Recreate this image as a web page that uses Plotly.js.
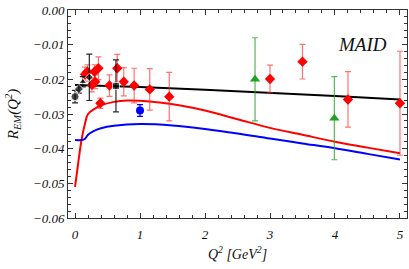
<!DOCTYPE html>
<html><head><meta charset="utf-8">
<script src="https://cdn.plot.ly/plotly-3.0.1.min.js"></script>
<style>html,body{margin:0;padding:0;background:#fff}#g{width:409px;height:269px}</style>
</head><body><div id="g"></div>
<script>
// Theory curves
const blackX = [0, 0.5, 1, 2, 3, 4, 5];
const blackY = [-0.0216, -0.0218, -0.0222, -0.0230, -0.0238, -0.0248, -0.0258];
const redX = [0, 0.05, 0.1, 0.15, 0.2, 0.3, 0.4, 0.6, 0.8, 1.0, 1.3, 1.6, 2.0, 2.5, 3.0, 3.5, 4.0, 4.5, 5.0];
const redY = [-0.051, -0.044, -0.0375, -0.033, -0.030, -0.0285, -0.0275, -0.0265, -0.0261, -0.0262, -0.0267, -0.0275, -0.029, -0.0315, -0.034, -0.036, -0.038, -0.0397, -0.0413];
const blueX = [0, 0.1, 0.15, 0.2, 0.3, 0.4, 0.6, 1.0, 1.5, 2.0, 2.5, 3.0, 3.5, 4.0, 4.5, 5.0];
const blueY = [-0.0375, -0.0375, -0.0372, -0.036, -0.0348, -0.0341, -0.0334, -0.0329, -0.0333, -0.0343, -0.0356, -0.0371, -0.0385, -0.0399, -0.0415, -0.0431];

// Data points
const redPtX = [0.154, 0.19, 0.26, 0.30, 0.31, 0.36, 0.39, 0.53, 0.65, 0.75, 0.91, 1.15, 1.45, 3.0, 3.5, 4.2, 5.0];
const redPtY = [-0.0185, -0.0178, -0.0216, -0.0178, -0.0207, -0.0168, -0.0269, -0.0218, -0.0168, -0.0207, -0.0218, -0.0229, -0.025, -0.0199, -0.0149, -0.0258, -0.0269];
const redPtErr = [0.002, 0.002, 0.002, 0.002, 0.002, 0.0033, 0.0015, 0.0031, 0.004, 0.0041, 0.005, 0.006, 0.007, 0.004, 0.005, 0.008, 0.015];
const blackPtX = [0.0, 0.06, 0.12, 0.22, 0.63];
const blackPtY = [-0.025, -0.0228, -0.0207, -0.0194, -0.0219];
const blackPtErr = [0.0018, 0.0012, 0.0015, 0.0067, 0.0075];
const blackSym = ['circle', 'diamond', 'triangle-up', 'diamond', 'square'];
const blackSize = [8, 7, 7, 6, 7];
const greenPtX = [2.77, 3.99];
const greenPtY = [-0.020, -0.0312];
const greenPtErr = [0.012, 0.012];
const bluePtX = [1.0];
const bluePtY = [-0.029];
const bluePtErr = [0.0017];

const serif = 'Liberation Serif, Times New Roman, serif';
const traces = [
  {x: blackX, y: blackY, mode: 'lines', line: {color: '#000', width: 2}},
  {x: redX, y: redY, mode: 'lines', line: {color: '#ff0000', width: 2, shape: 'spline'}},
  {x: blueX, y: blueY, mode: 'lines', line: {color: '#0000ff', width: 2, shape: 'spline'}},
  {x: redPtX, y: redPtY, mode: 'markers', marker: {symbol: 'diamond', size: 8, color: '#ff0000'},
   error_y: {type: 'data', array: redPtErr, color: 'rgba(255,40,40,0.65)', thickness: 1.2, width: 3}},
  {x: blackPtX, y: blackPtY, mode: 'markers', marker: {symbol: blackSym, size: blackSize, color: '#000'},
   error_y: {type: 'data', array: blackPtErr, color: 'rgba(0,0,0,0.85)', thickness: 1.2, width: 3}},
  {x: greenPtX, y: greenPtY, mode: 'markers', marker: {symbol: 'triangle-up', size: 9, color: '#22a022'},
   error_y: {type: 'data', array: greenPtErr, color: 'rgba(40,170,40,0.8)', thickness: 1.2, width: 3}},
  {x: bluePtX, y: bluePtY, mode: 'markers', marker: {symbol: 'circle', size: 8, color: '#0000ff'},
   error_y: {type: 'data', array: bluePtErr, color: '#0000ff', thickness: 1.2, width: 3}}
];
const tickFont = {family: serif, size: 13, style: 'italic', color: '#111'};
const layout = {
  width: 409, height: 269,
  margin: {l: 68, r: 2, t: 10, b: 51},
  paper_bgcolor: '#fff', plot_bgcolor: '#fff',
  showlegend: false,
  xaxis: {range: [-0.108, 5.108], tickvals: [0,1,2,3,4,5], ticks: 'inside', ticklen: 5, tickcolor: '#333',
    showgrid: false, zeroline: false, showline: true, linecolor: '#333', linewidth: 1, mirror: 'ticks',
    minor: {dtick: 0.2, tick0: 0, ticks: 'inside', ticklen: 3, tickcolor: '#333', showgrid: false},
    tickfont: tickFont, ticklabelstandoff: 4,
    title: {text: 'Q<sup>2</sup> [GeV<sup>2</sup>]', font: {family: serif, size: 14, style: 'italic', color: '#111'}, standoff: 8}},
  yaxis: {range: [-0.06, 0], dtick: 0.01, tick0: 0, tickformat: '.2f', ticks: 'inside', ticklen: 5, tickcolor: '#333',
    showgrid: false, zeroline: false, showline: true, linecolor: '#333', linewidth: 1, mirror: 'ticks',
    minor: {dtick: 0.002, tick0: 0, ticks: 'inside', ticklen: 3, tickcolor: '#333', showgrid: false},
    tickfont: tickFont,
    title: {text: 'R<sub>EM</sub>(Q<sup>2</sup>)', font: {family: serif, size: 15, style: 'italic', color: '#111'}, standoff: 10}},
  annotations: [{x: 4.42, y: -0.0099, xref: 'x', yref: 'y', text: 'MAID', showarrow: false,
    font: {family: serif, size: 19, style: 'italic', color: '#111'}}]
};
Plotly.newPlot('g', traces, layout, {staticPlot: true});
</script></body></html>
